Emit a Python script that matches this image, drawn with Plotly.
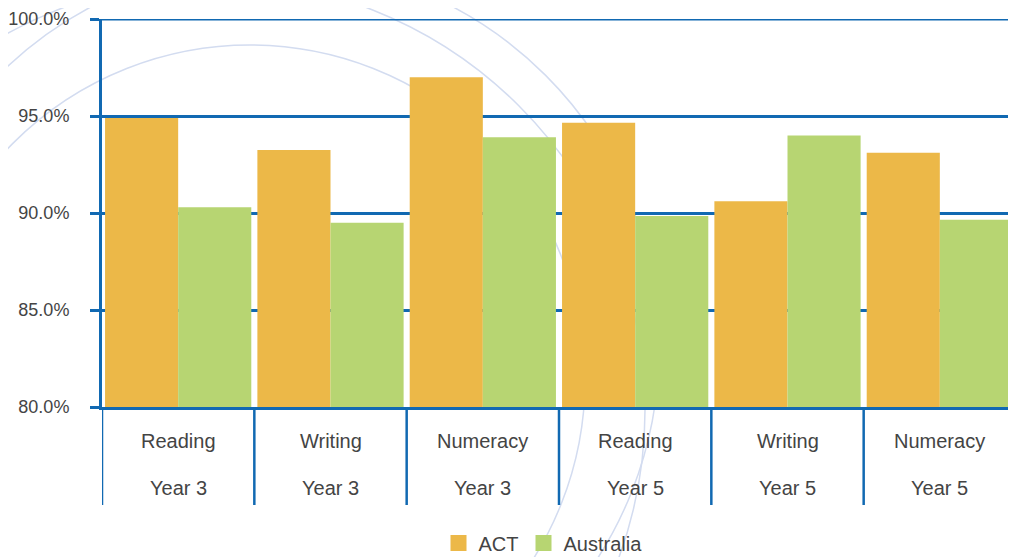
import plotly.graph_objects as go

# NAPLAN style results: share of students at/above national minimum standard
subjects = ["Reading", "Writing", "Numeracy", "Reading", "Writing", "Numeracy"]
years = ["Year 3", "Year 3", "Year 3", "Year 5", "Year 5", "Year 5"]
act = [94.9, 93.25, 97.0, 94.65, 90.6, 93.1]
australia = [90.3, 89.5, 93.9, 89.85, 94.0, 89.65]
y_ticks = [80, 85, 90, 95, 100]

categories = [f"{s} {y}" for s, y in zip(subjects, years)]

ACT_COLOR = "#ECB848"
AUS_COLOR = "#B7D572"
BLUE = "#1169B2"
ARC = "#D3DCF0"
TEXT = "#444444"
FONT = "Liberation Sans, Arial, sans-serif"

# the page body has an 8px margin, so work in window pixels and shift
OFF = 8
W, H = 1016 - OFF, 557 - OFF
L, T = 102 - OFF, 19 - OFF
R, B = 0, H - (407 - OFF)
PW, PH = W - L - R, H - T - B


def px(x):
    return (x - OFF - L) / PW


def py(y):
    return (H - B - (y - OFF)) / PH


fig = go.Figure()
fig.add_trace(go.Bar(x=categories, y=act, name="ACT", marker_color=ACT_COLOR,
                     marker_line_width=0, showlegend=False))
fig.add_trace(go.Bar(x=categories, y=australia, name="Australia", marker_color=AUS_COLOR,
                     marker_line_width=0, showlegend=False))

# legend-only entries so the swatches are the right size
for name, col in [("ACT", ACT_COLOR), ("Australia", AUS_COLOR)]:
    fig.add_trace(go.Scatter(x=[None], y=[None], mode="markers", name=name,
                             marker=dict(symbol="square", size=17, color=col)))

shapes = []
# decorative background arcs
for cx, cy, r in [(250, 380, 335), (272, 349, 387), (215, 410, 430)]:
    shapes.append(dict(type="circle", xref="paper", yref="paper", layer="below",
                       x0=px(cx - r), x1=px(cx + r), y0=py(cy + r), y1=py(cy - r),
                       line=dict(color=ARC, width=1.5)))

# top gridline (plotly drops the one on the plot edge)
shapes.append(dict(type="line", xref="paper", yref="y", x0=px(93), x1=1, y0=y_ticks[-1],
                   y1=y_ticks[-1], line=dict(color=BLUE, width=3)))

# category separators under the axis
for i in range(len(categories)):
    shapes.append(dict(type="line", xref="x", yref="paper", x0=i - 0.5, x1=i - 0.5,
                       y0=py(505), y1=0, line=dict(color=BLUE, width=2.5)))

annotations = []
for i, (s, yr) in enumerate(zip(subjects, years)):
    annotations.append(dict(x=categories[i], y=py(441), xref="x", yref="paper", text=s,
                            showarrow=False, yanchor="middle",
                            font=dict(size=20, color=TEXT, family=FONT)))
    annotations.append(dict(x=categories[i], y=py(488), xref="x", yref="paper", text=yr,
                            showarrow=False, yanchor="middle",
                            font=dict(size=20, color=TEXT, family=FONT)))

fig.update_layout(
    width=W, height=H,
    margin=dict(l=L, r=R, t=T, b=B, autoexpand=False),
    paper_bgcolor="white",
    plot_bgcolor="rgba(0,0,0,0)",
    barmode="group",
    bargap=0.04,
    bargroupgap=0.0,
    font=dict(family=FONT, color=TEXT, size=19),
    shapes=shapes,
    annotations=annotations,
    legend=dict(orientation="h", x=px(543), xanchor="center", y=py(543), yanchor="middle",
                font=dict(size=20, color=TEXT), itemwidth=30, bgcolor="rgba(0,0,0,0)"),
    xaxis=dict(
        range=[-0.5, len(categories) - 0.5],
        showticklabels=False,
        showgrid=False,
        showline=True, linecolor=BLUE, linewidth=3,
        ticks="",
    ),
    yaxis=dict(
        range=[80, 100],
        tickvals=y_ticks,
        ticktext=[f"{v:.1f}%" for v in y_ticks],
        showgrid=True, gridcolor=BLUE, gridwidth=3,
        showline=True, linecolor=BLUE, linewidth=3,
        ticks="outside", ticklen=9, tickwidth=3, tickcolor=BLUE,
        ticklabelstandoff=17,
        zeroline=False,
        tickfont=dict(size=18, color=TEXT),
    ),
)

fig.write_html("out.html")
